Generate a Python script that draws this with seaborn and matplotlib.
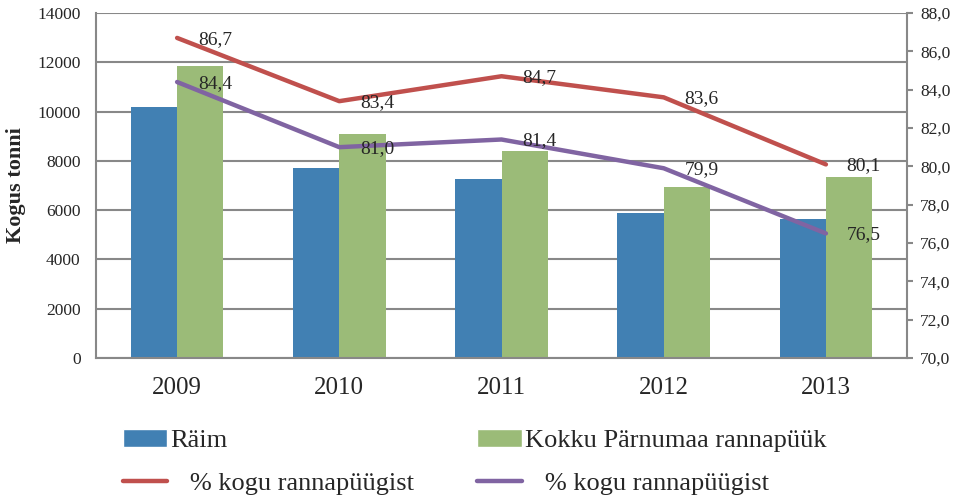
import matplotlib
matplotlib.use("Agg")
import matplotlib.pyplot as plt
from matplotlib.patches import Patch
from matplotlib.lines import Line2D
import seaborn as sns
import numpy as np
import pandas as pd

years = ["2009", "2010", "2011", "2012", "2013"]
raim = [10200, 7700, 7270, 5900, 5650]
kokku = [11850, 9090, 8400, 6950, 7350]
pct_red = [86.7, 83.4, 84.7, 83.6, 80.1]
pct_purple = [84.4, 81.0, 81.4, 79.9, 76.5]

bar_names = ["Räim", "Kokku Pärnumaa rannapüük"]
line_label = "% kogu rannapüügist"

BLUE = "#4180B3"
GREEN = "#9BBB78"
RED = "#C0504D"
PURPLE = "#8064A2"
GREY = "#888888"

sns.set_style("white")
plt.rcParams["font.family"] = ["Liberation Serif", "DejaVu Serif"]

df = pd.DataFrame({
    "aasta": years * 2,
    "kogus": raim + kokku,
    "seeria": [bar_names[0]] * 5 + [bar_names[1]] * 5,
})

fig = plt.figure(figsize=(9.64, 4.96), dpi=100)
ax = fig.add_axes([96 / 964, 1 - 358 / 496, (907 - 96) / 964, (358 - 13) / 496])

sns.barplot(data=df, x="aasta", y="kogus", hue="seeria", palette=[BLUE, GREEN],
            width=0.57, gap=0, saturation=1, legend=False, linewidth=0,
            edgecolor="none", ax=ax, zorder=2)
ax.set_ylim(0, 14000)
ax.set_xlim(-0.5, 4.5)
ax.set_yticks(range(0, 14001, 2000))
ax.grid(axis="y", color=GREY, linewidth=1.5, zorder=0)
ax.set_axisbelow(True)
ax.set_xlabel("")
ax.set_ylabel("Kogus tonni", fontsize=16, fontweight="bold", labelpad=8)
ax.tick_params(axis="y", length=0, pad=11, labelsize=12.5)
ax.tick_params(axis="x", length=0, pad=14, labelsize=18)
for s in ["top", "right"]:
    ax.spines[s].set_visible(False)
for s in ["left", "bottom"]:
    ax.spines[s].set_color(GREY)
    ax.spines[s].set_linewidth(1.5)

ax2 = ax.twinx()
xpos = np.arange(len(years))
sns.lineplot(x=xpos, y=pct_red, color=RED, linewidth=3.2, ax=ax2)
sns.lineplot(x=xpos, y=pct_purple, color=PURPLE, linewidth=3.2, ax=ax2)
ax2.set_ylim(70, 88)
ax2.set_xlim(-0.5, 4.5)
ax2.set_yticks(np.arange(70, 88.1, 2))
ax2.set_yticklabels([f"{v:.1f}".replace(".", ",") for v in np.arange(70, 88.1, 2)])
ax2.tick_params(axis="y", length=4.5, width=1.5, color=GREY, pad=5, labelsize=12.5)
for s in ["top", "left", "bottom"]:
    ax2.spines[s].set_visible(False)
ax2.spines["right"].set_color(GREY)
ax2.spines["right"].set_linewidth(1.5)

for vals in (pct_red, pct_purple):
    for x, v in zip(xpos, vals):
        ax2.annotate(f"{v:.1f}".replace(".", ","), (x, v), xytext=(15, -1),
                     textcoords="offset points", ha="left", va="center", fontsize=14)

handles = [
    Patch(facecolor=BLUE, label=bar_names[0]),
    Line2D([0], [0], color=RED, linewidth=3.2, label="   " + line_label),
    Patch(facecolor=GREEN, label=bar_names[1]),
    Line2D([0], [0], color=PURPLE, linewidth=3.2, label="   " + line_label),
]
fig.legend(handles=handles, ncol=2, loc="upper left", bbox_to_anchor=(112 / 964, 1 - 418 / 496),
           frameon=False, fontsize=19, handlelength=1.7, handleheight=0.7,
           handletextpad=0.1, columnspacing=2.4, labelspacing=0.75, borderaxespad=0)

fig.savefig("out.png", dpi=100)
